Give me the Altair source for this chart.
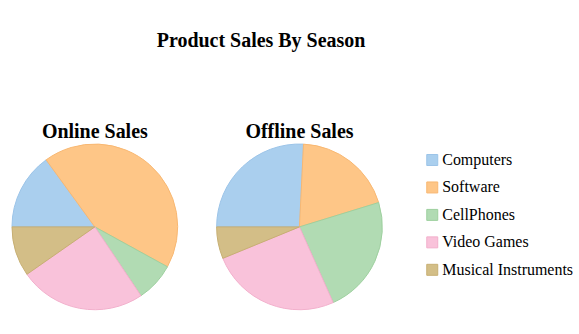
import altair as alt
import pandas as pd
import math

categories = ["Computers", "Software", "CellPhones", "Video Games", "Musical Instruments"]
online_values = [150, 430, 76, 247, 97]
offline_values = [258, 195, 231, 255, 62]
fill_colors = ["#AACFEE", "#FEC687", "#B1DBB3", "#F9C2DA", "#D3BE87"]
stroke_colors = ["#9CC4E8", "#F8B872", "#9ED09F", "#F2B0CC", "#C7AF72"]

FONT = "Liberation Serif"

def frame(values):
    return pd.DataFrame({"category": categories, "value": values, "idx": list(range(len(categories)))})

start = 1.5 * math.pi
theta_scale = alt.Scale(range=[start, start + 2 * math.pi])
fill_scale = alt.Scale(domain=categories, range=fill_colors)
stroke_scale = alt.Scale(domain=categories, range=stroke_colors)

def pie(values, title):
    return (
        alt.Chart(frame(values))
        .mark_arc(radius=83, strokeWidth=1)
        .encode(
            theta=alt.Theta("value:Q", stack=True, scale=theta_scale),
            fill=alt.Fill("category:N", scale=fill_scale, sort=categories,
                          legend=alt.Legend(title=None, orient="none", legendX=413, legendY=8,
                                            symbolType="square", symbolSize=121,
                                            labelFont=FONT, labelFontSize=16,
                                            labelColor="#000000", rowPadding=11.5,
                                            labelOffset=2, symbolStrokeWidth=1)),
            stroke=alt.Stroke("category:N", scale=stroke_scale, sort=categories, legend=None),
            order=alt.Order("idx:Q"),
        )
        .properties(
            width=166, height=166,
            title=alt.TitleParams(title, font=FONT, fontSize=20, fontWeight="bold",
                                  color="#000000", offset=0),
        )
    )

chart = (
    alt.hconcat(pie(online_values, "Online Sales"), pie(offline_values, "Offline Sales"), spacing=35)
    .properties(
        title=alt.TitleParams("Product Sales By Season", font=FONT, fontSize=20,
                              fontWeight="bold", color="#000000", anchor="middle", offset=71, dx=-31),
        padding={"left": 10, "top": 31, "right": 5, "bottom": 5},
        background="#ffffff",
    )
    .configure_view(stroke=None)
)

chart.save("out.html", embed_options={"renderer": "svg", "actions": False})
